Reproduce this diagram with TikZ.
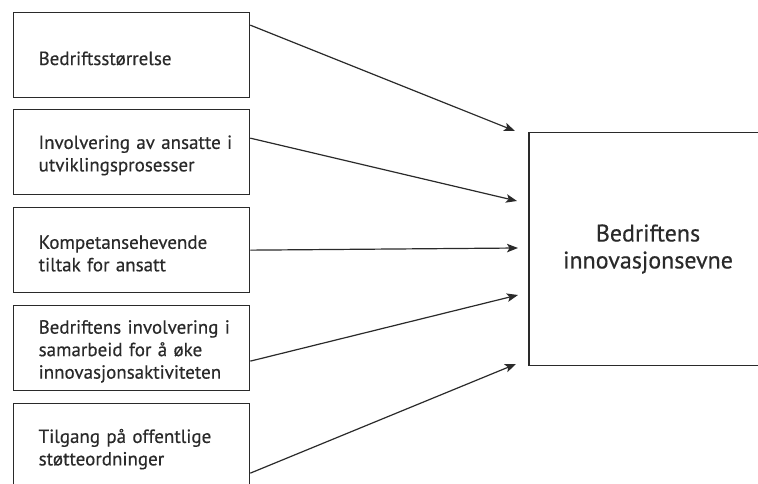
\documentclass[tikz,border=0pt]{standalone}
\usepackage{fontspec}
\setmainfont{PT Sans}[FakeBold=0.4]
\usetikzlibrary{arrows.meta}
\definecolor{ink}{HTML}{2A2A2A}
\begin{document}
\begin{tikzpicture}[x=1pt,y=-1pt,
  factor/.style={draw=ink, line width=1.3pt, text=ink,
    minimum width=236pt, minimum height=85pt, text width=236pt,
    inner xsep=0pt, inner ysep=0pt, align=left, anchor=north west,
    execute at begin node={\leftskip=25pt\relax\rule{0pt}{20pt}},
    font=\fontsize{19}{22.5}\selectfont},
  outcome/.style={draw=ink, line width=1.3pt, text=ink,
    minimum width=238pt, minimum height=233pt, align=center,
    execute at begin node={\rule{0pt}{25pt}},
    font=\fontsize{24}{27}\selectfont},
  link/.style={draw=ink, line width=1.2pt,
    -{Stealth[length=11pt,width=8.5pt,inset=2.5pt]}}]
  \useasboundingbox (0,0) rectangle (758,484);
  \fill[white] (0,0) rectangle (758,484);

  % factor boxes
  \node[factor] (b1) at (13,12)  {Bedriftsstørrelse};
  \node[factor] (b2) at (13,109) {Involvering av ansatte i\\utviklingsprosesser};
  \node[factor] (b3) at (13,207) {Kompetansehevende\\tiltak for ansatt};
  \node[factor] (b4) at (13,305) {Bedriftens involvering i\\samarbeid for å øke\\innovasjonsaktiviteten};
  \node[factor] (b5) at (13,403) {Tilgang på offentlige\\støtteordninger};

  % outcome box (runs past the right edge)
  \node[outcome] (out) at (648,249) {Bedriftens\\innovasjonsevne};

  % arrow targets in front of the outcome box
  \coordinate (t1) at (515,131);
  \coordinate (t2) at (517,201);
  \coordinate (t3) at (518,248);
  \coordinate (t4) at (518,295);
  \coordinate (t5) at (516,364);

  \draw[link] ([yshift=30pt]b1.east) -- (t1);
  \draw[link] ([yshift=14pt]b2.east) -- (t2);
  \draw[link] (b3.east) -- (t3);
  \draw[link] ([yshift=-13pt]b4.east) -- (t4);
  \draw[link] ([yshift=-27pt]b5.east) -- (t5);
\end{tikzpicture}
\end{document}
